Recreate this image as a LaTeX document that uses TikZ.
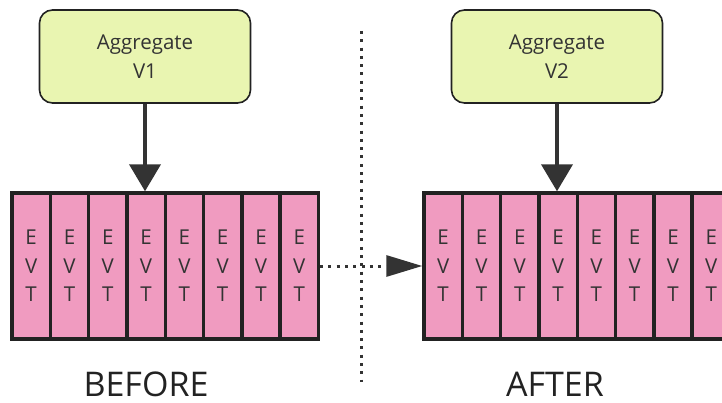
\documentclass[tikz,border=0pt]{standalone}
\usepackage{fontspec}
\setmainfont{Open Sans}
\usetikzlibrary{arrows.meta,positioning}
\definecolor{evtpink}{HTML}{F09BC0}
\definecolor{aggfill}{HTML}{E9F5B1}
\definecolor{ink}{HTML}{222222}
\definecolor{txt}{HTML}{333333}
\tikzset{
  evtcell/.style={draw=ink, fill=evtpink, line width=3.4pt, inner sep=0pt,
    minimum width=38.3pt, minimum height=146pt, align=center, text=txt,
    font=\fontsize{20.5}{28.5}\selectfont},
  aggbox/.style={draw=ink, fill=aggfill, line width=1.6pt, rounded corners=13pt,
    minimum width=211pt, minimum height=93pt, inner sep=0pt, align=center,
    text=txt, font=\fontsize{20.5}{29}\selectfont},
  feed/.style={draw=txt, line width=4pt, -{Triangle[length=27pt,width=31pt]}},
  replay/.style={draw=txt, line width=3pt, dash pattern=on 3pt off 5.3pt,
    -{Triangle[length=36pt,width=21pt]}},
  divider/.style={draw=txt, line width=3pt, dash pattern=on 3pt off 5.3pt},
  caption/.style={text=ink, font=\fontsize{34}{40}\selectfont, inner sep=0pt,
    anchor=base}
}
\begin{document}
\begin{tikzpicture}[x=1pt,y=-1pt]
\useasboundingbox (0,0) rectangle (722,403);
\clip (0,0) rectangle (722,403);

% separator between the two states
\coordinate (divtop) at (361,31);
\coordinate (divbot) at (361,382);
\draw[divider] (divtop) -- (divbot);

% aggregates
\node[aggbox] (agg1) at (145,56.5) {Aggregate\\V1};
\node[aggbox] (agg2) at (557,56.5) {Aggregate\\V2};

% event streams
\foreach \i in {1,...,8} {
  \node[evtcell] (l\i) at ({12+38.3*(\i-0.5)},266) {E\\V\\T};
  \node[evtcell] (r\i) at ({424+38.3*(\i-0.5)},266) {E\\V\\T};
}

% aggregate feeds into its stream
\draw[feed] (agg1.south) -- (agg1.south |- l4.north);
\draw[feed] (agg2.south) -- (agg2.south |- r4.north);

% old stream replayed into the new one
\draw[replay] (l8.east) -- (r1.west);

% captions
\node[caption] (before) at (146,396) {BEFORE};
\node[caption] (after) at (555,396) {AFTER};
\end{tikzpicture}
\end{document}
